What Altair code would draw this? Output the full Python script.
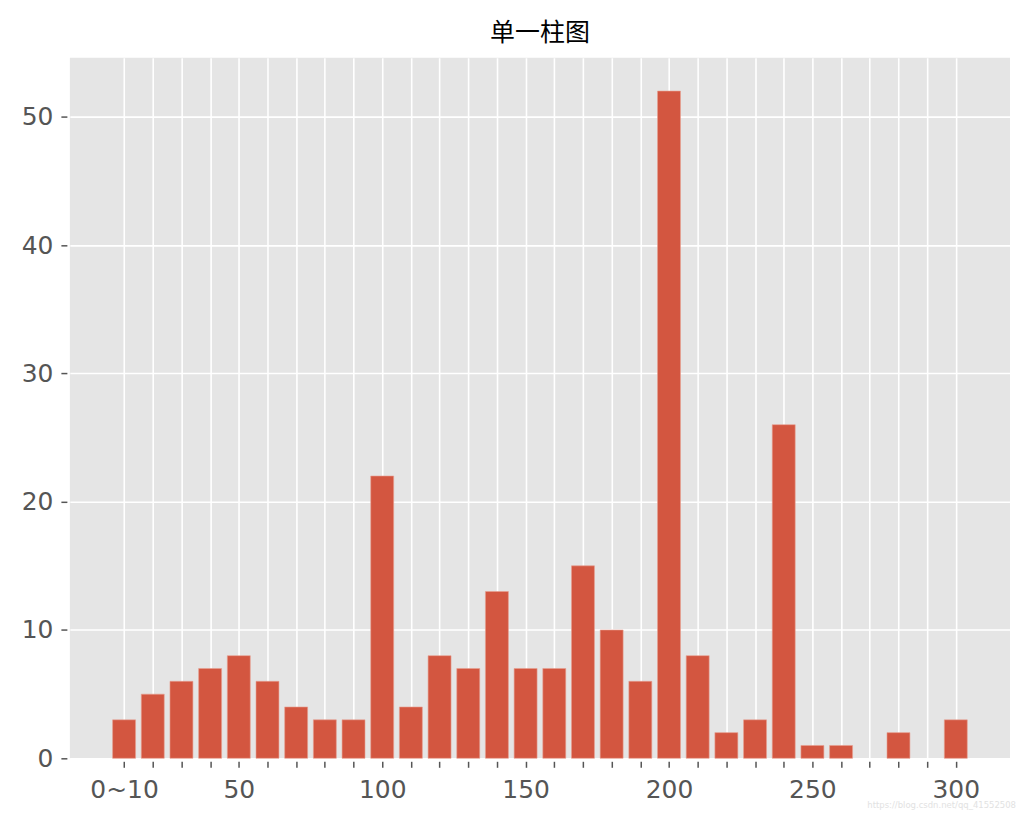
import altair as alt
import pandas as pd

positions = list(range(30))
values = [3, 5, 6, 7, 8, 6, 4, 3, 3, 22, 4, 8, 7, 13, 7, 7, 15, 10, 6, 52, 8, 2, 3, 26, 1, 1, 0, 2, 0, 3]
tick_labels = ["0~10", "", "", "", "50", "", "", "", "", "100", "", "", "", "", "150",
               "", "", "", "", "200", "", "", "", "", "250", "", "", "", "", "300"]
title_text = "单一柱图"
watermark = "https://blog.csdn.net/qq_41552508"

df = pd.DataFrame({"pos": positions, "value": values})
df["x0"] = df["pos"] - 0.4
df["x1"] = df["pos"] + 0.4

label_map = "{" + ",".join(f"'{p}':'{l}'" for p, l in zip(positions, tick_labels)) + "}"

xscale = alt.Scale(domain=[-1.89, 30.89], nice=False, zero=False)
yscale = alt.Scale(domain=[0, 54.6], nice=False)

bars = alt.Chart(df).transform_filter("datum.value > 0").mark_rect(
    color="#D35640", stroke="#E8A090", strokeWidth=0.6
).encode(
    x=alt.X("x0:Q", scale=xscale, title=None,
            axis=alt.Axis(values=positions, labelExpr=f"{label_map}[datum.value + '']",
                          labelFontSize=25, labelFont="DejaVu Sans", labelColor="#555555",
                          tickColor="#555555", tickSize=6, tickWidth=1.5, offset=3,
                          labelPadding=10, domain=False, grid=True, gridColor="white",
                          gridWidth=1.6, labelOverlap=False, labelFlush=False)),
    x2="x1:Q",
    y=alt.Y("value:Q", scale=yscale, title=None,
            axis=alt.Axis(values=[0, 10, 20, 30, 40, 50], labelFontSize=25,
                          labelFont="DejaVu Sans", labelColor="#555555",
                          tickColor="#555555", tickSize=6, tickWidth=1.5, offset=3,
                          labelPadding=8, domain=False, grid=True, gridColor="white",
                          gridWidth=1.6)),
    y2=alt.datum(0),
)

wm = alt.Chart(pd.DataFrame({"t": [watermark]})).mark_text(
    fontSize=8.5, color="#E2E2E2", align="right", baseline="middle", font="DejaVu Sans"
).encode(text="t:N", x=alt.value(948), y=alt.value(749))

chart = alt.layer(bars, wm).properties(
    width=942, height=702,
    autosize="none",
    padding={"left": 62, "top": 49, "right": 6, "bottom": 54},
    title=alt.TitleParams(title_text, font="Noto Sans CJK SC", fontSize=25,
                          fontWeight="normal", color="black", offset=12),
).configure_view(fill="#E5E5E5", stroke=None)

chart.save("out.html", embed_options={"renderer": "svg", "actions": False})
